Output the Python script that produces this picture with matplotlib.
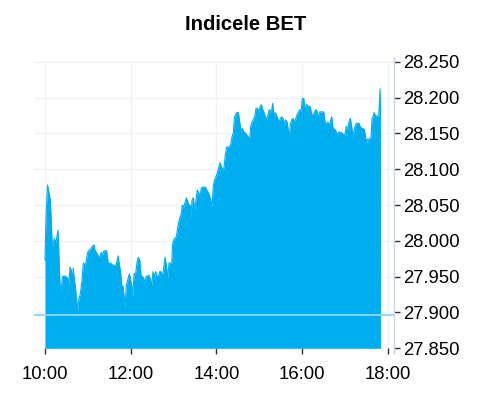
import matplotlib
matplotlib.use("Agg")
import matplotlib.pyplot as plt
import numpy as np

# Minutes after 10:00 and index values
minutes = [
    0.0, 1.4, 3.5, 6.0, 7.4, 8.8, 10.2, 11.6, 13.0, 15.4, 18.2, 21.0, 22.4, 24.5, 28.0, 31.8,
    33.2, 35.0, 36.8, 38.2, 39.6, 41.0, 42.4, 44.4, 45.8, 47.6, 49.0, 50.8, 52.3, 53.7, 55.6,
    57.4, 59.8, 62.1, 64.4, 66.8, 68.6, 70.0, 72.4, 74.7, 77.0, 78.9, 80.8, 82.6, 84.5, 86.4,
    88.3, 90.1, 92.0, 94.8, 97.6,
    99.5, 102.3, 106.0, 107.4, 109.3, 110.7, 112.1, 113.9, 115.8, 118.1, 121.5, 122.9, 124.7,
    127.1, 128.9, 130.7, 132.7, 134.5, 136.3, 138.3, 140.1, 141.9, 143.9, 145.7, 147.5, 149.5,
    151.3, 153.1, 155.1, 156.9, 158.7, 160.7, 162.5, 164.3, 166.3, 168.1, 169.9, 171.9, 173.7,
    175.5, 177.5, 178.9, 180.3, 182.1, 183.9, 185.9, 187.3, 189.1, 190.5, 192.3, 194.3, 196.1,
    197.9, 199.9, 201.7,
    203.1, 204.5, 205.9, 207.7, 209.7, 211.5, 213.3, 215.3, 217.1, 218.9, 220.9, 222.7, 224.5,
    226.5, 228.3, 230.2, 232.1, 233.9, 235.8, 237.7, 239.5, 241.4, 243.3, 245.1, 247.0, 248.9,
    250.7, 252.6, 254.5, 256.3, 258.2, 260.1, 262.0, 263.8, 265.2, 267.1, 269.0, 270.8, 272.7,
    274.6, 276.4, 278.3, 280.2, 282.5, 284.8, 286.7, 288.1, 290.0, 291.8, 293.7, 295.6, 297.4,
    299.4, 301.2, 303.0, 305.0, 306.8, 308.6, 310.6, 312.4, 314.2,
    315.6, 317.6, 319.0, 320.4, 322.2, 324.0, 326.0, 327.8, 329.6, 331.6, 333.4, 335.2, 337.2,
    339.0, 340.8, 342.2, 343.6, 345.6, 347.4, 349.2, 351.2, 353.0, 354.8, 356.8, 358.6, 360.4,
    362.4, 364.2, 366.0, 368.0, 369.8, 371.6, 373.6, 375.4, 377.2, 379.2, 381.0, 382.8, 384.8,
    386.6, 388.4, 390.4, 392.2, 394.0, 396.0, 397.8, 399.7, 401.6, 403.4, 405.3,
    406.3, 408.1, 410.0, 411.8, 413.7, 415.6, 417.4, 419.2, 420.7, 422.1, 424.0, 425.8, 427.7,
    429.6, 431.0, 432.4, 434.2, 436.1, 438.0, 439.9, 441.7, 443.7, 445.5, 447.3, 448.7, 450.1,
    451.5, 453.5, 454.9, 456.7, 458.1, 459.5, 460.9, 462.3, 464.1, 466.1, 467.5, 468.3, 469.3,
    469.9,
]
values = [
    27.973, 28.033, 28.078, 28.064, 28.057, 28.026, 27.990, 27.997, 28.003, 27.998, 28.015,
    27.938, 27.931, 27.950, 27.951, 27.948, 27.938, 27.963, 27.959, 27.945, 27.962, 27.945,
    27.938, 27.915, 27.904, 27.920, 27.924, 27.936, 27.950, 27.969, 27.966, 27.970, 27.984,
    27.987, 27.989, 27.993, 27.994, 27.987, 27.983, 27.979, 27.977, 27.984, 27.980, 27.986,
    27.986, 27.986, 27.970, 27.968, 27.969, 27.966, 27.966,
    27.966, 27.979, 27.955, 27.938, 27.936, 27.924, 27.906, 27.938, 27.945, 27.954, 27.938,
    27.922, 27.954, 27.955, 27.970, 27.977, 27.973, 27.952, 27.950, 27.948, 27.941, 27.951,
    27.950, 27.952, 27.947, 27.938, 27.957, 27.950, 27.957, 27.950, 27.950, 27.957, 27.957,
    27.950, 27.962, 27.977, 27.966, 27.948, 27.969, 27.969, 27.969, 27.997, 28.001, 28.004,
    28.005, 28.018, 28.026, 28.033, 28.036, 28.050, 28.047, 28.053, 28.060, 28.054, 28.050,
    28.050, 28.033, 28.057, 28.060, 28.043, 28.057, 28.071, 28.067, 28.060, 28.074, 28.075,
    28.075, 28.075, 28.071, 28.068, 28.064, 28.057, 28.046, 28.078, 28.085, 28.089, 28.095,
    28.102, 28.109, 28.104, 28.099, 28.102, 28.120, 28.131, 28.131, 28.131, 28.134, 28.145,
    28.151, 28.171, 28.177, 28.179, 28.179, 28.166, 28.153, 28.157, 28.152, 28.151, 28.148,
    28.145, 28.142, 28.159, 28.166, 28.169, 28.173, 28.185, 28.185, 28.180, 28.187, 28.190,
    28.183, 28.179, 28.173, 28.170, 28.176, 28.183,
    28.180, 28.183, 28.192, 28.176, 28.179, 28.176, 28.171, 28.164, 28.171, 28.173, 28.171,
    28.164, 28.169, 28.166, 28.155, 28.144, 28.162, 28.169, 28.171, 28.166, 28.170, 28.176,
    28.179, 28.183, 28.180, 28.198, 28.199, 28.180, 28.191, 28.188, 28.188, 28.187, 28.176,
    28.176, 28.179, 28.183, 28.181, 28.173, 28.180, 28.180, 28.180, 28.180, 28.166, 28.162,
    28.166, 28.162, 28.166, 28.173, 28.157, 28.156,
    28.155, 28.152, 28.148, 28.152, 28.151, 28.151, 28.149, 28.145, 28.152, 28.160, 28.155,
    28.166, 28.171, 28.159, 28.148, 28.152, 28.159, 28.164, 28.164, 28.164, 28.159, 28.157,
    28.157, 28.155, 28.148, 28.134, 28.142, 28.142, 28.142, 28.145, 28.171, 28.173, 28.179,
    28.176, 28.174, 28.174, 28.174, 28.190, 28.212,
    28.175,
]

title = "Indicele BET"
x_tick_minutes = [0, 120, 240, 360, 480]
x_tick_labels = ["10:00", "12:00", "14:00", "16:00", "18:00"]
y_ticks = [27.85, 27.90, 27.95, 28.00, 28.05, 28.10, 28.15, 28.20, 28.25]
y_tick_labels = ["27.850", "27.900", "27.950", "28.000", "28.050",
                 "28.100", "28.150", "28.200", "28.250"]
reference_level = 27.896

plt.rcParams['font.family'] = ['Liberation Sans', 'DejaVu Sans']

W, H = 492, 400
fig = plt.figure(figsize=(W / 100, H / 100), dpi=100)
left_px, right_px, top_px, bottom_px = 34, 394.3, 61.7, 348.3
ax = fig.add_axes([left_px / W, 1 - bottom_px / H,
                   (right_px - left_px) / W, (bottom_px - top_px) / H])

color = "#00adef"
ax.fill_between(minutes, values, y_ticks[0], color=color, linewidth=0, zorder=2)
ax.plot(minutes, values, color=color, linewidth=0.8, zorder=3)
ax.axhline(reference_level, color="#8fd5f4", linewidth=1.3, zorder=4)

ax.set_xlim(-15.4, 489.3)
ax.set_ylim(y_ticks[0], y_ticks[-1])

ax.set_xticks(x_tick_minutes)
ax.set_xticklabels(x_tick_labels)
ax.set_yticks(y_ticks)
ax.set_yticklabels(y_tick_labels)

ax.yaxis.tick_right()
ax.tick_params(axis='y', which='both', length=4, width=1, color='#333333',
               labelsize=13.3, pad=2, labelcolor='#000000')
ax.tick_params(axis='x', which='both', length=4, width=1, color='#333333',
               labelsize=13.3, pad=9, labelcolor='#000000')

ax.grid(True, color="#f2f2f2", linewidth=1, zorder=0)
ax.set_axisbelow(True)

for side in ['top', 'left', 'bottom']:
    ax.spines[side].set_visible(False)
ax.spines['right'].set_color('#ccd6eb')
ax.spines['right'].set_linewidth(1)
ax.spines['right'].set_bounds(27.843, 28.257)

fig.text(246 / W, 1 - 24 / H, title, ha='center', va='center',
         fontsize=14.6, fontweight='bold', color='#000000')

fig.savefig("out.png", dpi=100)
